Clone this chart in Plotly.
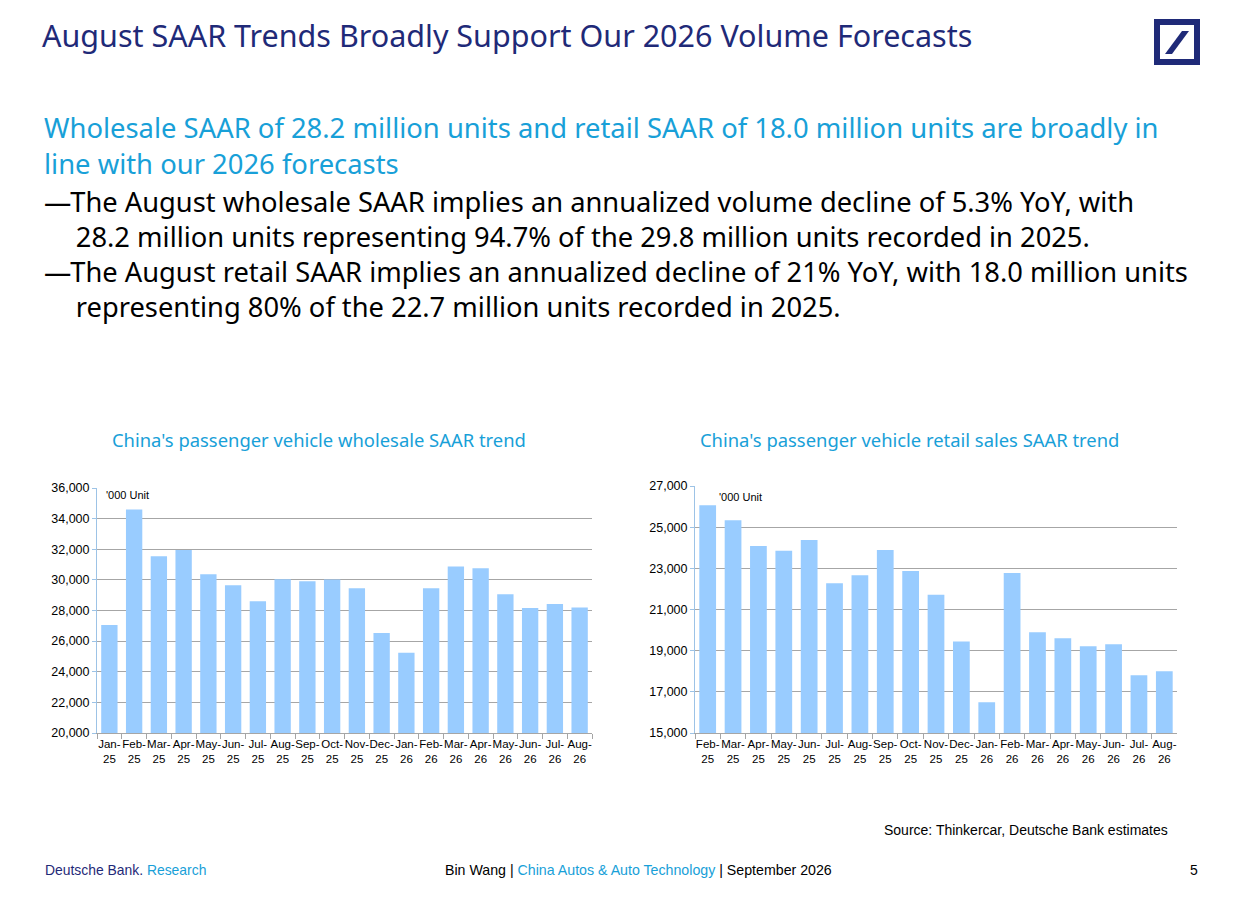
import plotly.graph_objects as go

# data ('000 units, SAAR)
wholesale_months = ["Jan-25", "Feb-25", "Mar-25", "Apr-25", "May-25", "Jun-25", "Jul-25",
                    "Aug-25", "Sep-25", "Oct-25", "Nov-25", "Dec-25", "Jan-26", "Feb-26",
                    "Mar-26", "Apr-26", "May-26", "Jun-26", "Jul-26", "Aug-26"]
wholesale_saar = [27050, 34600, 31550, 31950, 30370, 29650, 28600, 30040, 29910, 30020,
                  29450, 26530, 25240, 29450, 30870, 30760, 29060, 28170, 28430, 28200]

retail_months = ["Feb-25", "Mar-25", "Apr-25", "May-25", "Jun-25", "Jul-25", "Aug-25",
                 "Sep-25", "Oct-25", "Nov-25", "Dec-25", "Jan-26", "Feb-26", "Mar-26",
                 "Apr-26", "May-26", "Jun-26", "Jul-26", "Aug-26"]
retail_saar = [26070, 25330, 24090, 23850, 24380, 22270, 22660, 23890, 22870, 21720,
               19450, 16500, 22770, 19890, 19600, 19210, 19310, 17810, 18000]

W, H = 1240, 907
OX, OY = 8, 8  # page body margin, so the figure sits 8px in from the window corner
NAVY = "#1f2a78"
CYAN = "#18a0d8"
BAR = "#99ccff"
GRID = "#a6a6a6"


def px(x):
    return (x - OX) / W


def py(y):
    return 1 - (y - OY) / H


def two_line(m):
    a, b = m.split("-")
    return a + "-<br>" + b


fig = go.Figure()

fig.add_trace(go.Bar(x=[two_line(m) for m in wholesale_months], y=wholesale_saar,
                     marker=dict(color=BAR, line=dict(width=0)),
                     xaxis="x", yaxis="y", showlegend=False))
fig.add_trace(go.Bar(x=[two_line(m) for m in retail_months], y=retail_saar,
                     marker=dict(color=BAR, line=dict(width=0)),
                     xaxis="x2", yaxis="y2", showlegend=False))

tickfont = dict(family="Liberation Sans, Arial", size=12.5, color="#000000")
xtickfont = dict(family="Liberation Sans, Arial", size=11.5, color="#000000")

xcommon = dict(showgrid=False, showline=True, linecolor=GRID, linewidth=1,
               ticks="outside", tickson="boundaries", ticklen=5, tickcolor=GRID,
               tickfont=xtickfont, tickangle=0, fixedrange=True)
ycommon = dict(showgrid=True, gridcolor=GRID, gridwidth=1, showline=True,
               linecolor="#9dc3e6", linewidth=1, ticks="outside", ticklen=4,
               tickcolor="#9dc3e6", tickfont=tickfont, tickformat=",d",
               zeroline=False, fixedrange=True)

fig.update_layout(
    width=W, height=H,
    margin=dict(l=0, r=0, t=0, b=0, autoexpand=False),
    paper_bgcolor="white", plot_bgcolor="white",
    bargap=0.34,
    xaxis=dict(domain=[px(97), px(592)], anchor="y", **xcommon),
    yaxis=dict(domain=[py(733), py(488)], anchor="x", range=[20000, 36000],
               tick0=20000, dtick=2000, **ycommon),
    xaxis2=dict(domain=[px(695), px(1177)], anchor="y2", **xcommon),
    yaxis2=dict(domain=[py(733), py(486)], anchor="x2", range=[15000, 27000],
                tick0=15000, dtick=2000, **ycommon),
)

body = "Noto Sans, Lato, sans-serif"
anns = []


def txt(x, y, s, size, color, xanchor="left", font=body, yanchor="middle"):
    anns.append(dict(x=px(x), y=py(y), xref="paper", yref="paper", text=s,
                     showarrow=False, xanchor=xanchor, yanchor=yanchor,
                     align="left", font=dict(family=font, size=size, color=color)))


# invisible dash keeps the hanging indent of the bullet's second line
indent = "<span style='color:rgba(0,0,0,0)'>—&#8201;</span>"

txt(40, 35, "August SAAR Trends Broadly Support Our 2026 Volume Forecasts", 30.5, NAVY)
txt(42, 145, "Wholesale SAAR of 28.2 million units and retail SAAR of 18.0 million units are broadly in"
    "<br>line with our 2026 forecasts", 27.4, CYAN)
txt(42, 219, "—The August wholesale SAAR implies an annualized volume decline of 5.3% YoY, with<br>"
    + indent + "28.2 million units representing 94.7% of the 29.8 million units recorded in 2025.",
    27.3, "#000000")
txt(42, 289, "—The August retail SAAR implies an annualized decline of 21% YoY, with 18.0 million units<br>"
    + indent + "representing 80% of the 22.7 million units recorded in 2025.", 27.3, "#000000")

txt(110, 439, "China's passenger vehicle wholesale SAAR trend", 18.4, CYAN)
txt(698, 439, "China's passenger vehicle retail sales SAAR trend", 18.4, CYAN)

txt(104, 495, "'000 Unit", 11, "#000000", font="Liberation Sans, Arial")
txt(717, 497, "'000 Unit", 11, "#000000", font="Liberation Sans, Arial")

txt(1170, 830, "Source: Thinkercar, Deutsche Bank estimates", 14, "#000000",
    xanchor="right", font="Liberation Sans, Arial")
txt(43, 870, "<span style='color:%s'>Deutsche Bank.</span> <span style='color:%s'>Research</span>"
    % (NAVY, CYAN), 13.9, NAVY, font="Liberation Sans, Arial")
txt(443, 870, "Bin Wang | <span style='color:%s'>China Autos &amp; Auto Technology</span> | September 2026"
    % CYAN, 14.2, "#000000", font="Liberation Sans, Arial")
txt(1200, 870, "5", 14, "#000000", xanchor="right", font="Liberation Sans, Arial")

fig.update_layout(annotations=anns)

# logo: square with slash
fig.add_shape(type="rect", xref="paper", yref="paper",
              x0=px(1157), x1=px(1197), y0=py(62), y1=py(22),
              line=dict(color=NAVY, width=6), fillcolor="white")
fig.add_shape(type="path", xref="paper", yref="paper",
              path="M %f %f L %f %f L %f %f L %f %f Z" % (
                  px(1165), py(54), px(1172), py(54), px(1189), py(31), px(1182), py(31)),
              fillcolor=NAVY, line=dict(width=0))

fig.write_html("out.html")
